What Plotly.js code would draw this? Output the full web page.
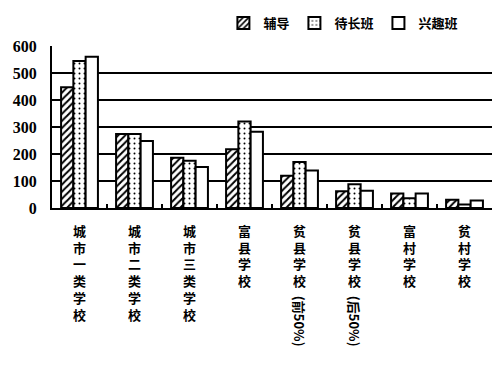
<!DOCTYPE html>
<html>
<head>
<meta charset="utf-8">
<script src="https://cdn.plot.ly/plotly-3.0.1.min.js"></script>
<style>html,body{margin:0;padding:0;background:#fff}#chart{width:500px;height:370px}</style>
</head>
<body>
<div id="chart"></div>
<script>
const categories = ['城市一类学校','城市二类学校','城市三类学校','富县学校','贫县学校(前50%)','贫县学校(后50%)','富村学校','贫村学校'];
const seriesNames = ['辅导','待长班','兴趣班'];
const fudao = [447, 274, 186, 218, 119, 62, 54, 31];
const daizhang = [544, 274, 175, 320, 170, 88, 36, 13];
const xingqu = [560, 248, 152, 282, 139, 64, 54, 28];
const yTicks = [0, 100, 200, 300, 400, 500, 600];

const cjk = '"Noto Sans CJK SC", sans-serif';
const mainParts = categories.map(c => c.split('(')[0]);
const parenParts = categories.map(c => c.indexOf('(') >= 0 ? c.slice(c.indexOf('(')) : '');
const tickText = mainParts.map(m => m.split('').join('<br>'));

function bar(name, vals, shape, size, solidity) {
  return {
    type: 'bar', name: name, x: categories, y: vals,
    marker: {
      color: 'white',
      line: {color: 'black', width: 2},
      pattern: shape ? {shape: shape, fgcolor: 'black', bgcolor: 'white', size: size, solidity: solidity} : undefined
    }
  };
}

const data = [
  bar(seriesNames[0], fudao, '/', 5, 0.4),
  bar(seriesNames[1], daizhang, '.', 5, 0.12),
  bar(seriesNames[2], xingqu, '', 0, 0)
];

const annotations = [];
categories.forEach((c, i) => {
  if (parenParts[i]) {
    annotations.push({
      x: c, xref: 'x', y: -0.53, yref: 'paper', yanchor: 'top', xanchor: 'center',
      text: parenParts[i], textangle: 90, showarrow: false,
      font: {family: cjk, size: 13, color: 'black', weight: 'bold'}
    });
  }
});

const layout = {
  width: 500, height: 370,
  margin: {l: 52, r: 8, t: 42, b: 162},
  paper_bgcolor: 'white', plot_bgcolor: 'white',
  barmode: 'group', bargap: 0.33, bargroupgap: 0,
  showlegend: true,
  legend: {
    orientation: 'h', x: 0.935, xanchor: 'right', y: 1.235, yanchor: 'top',
    font: {family: cjk, size: 13, color: 'black', weight: 'bold'},
    itemwidth: 30, traceorder: 'normal', bgcolor: 'rgba(0,0,0,0)'
  },
  xaxis: {
    type: 'category', tickvals: categories, ticktext: tickText, tickangle: 0,
    tickson: 'boundaries', ticks: 'inside', ticklen: 4, tickwidth: 2, tickcolor: 'black',
    ticklabelstandoff: 10,
    showline: true, linecolor: 'black', linewidth: 2, showgrid: false,
    tickfont: {family: cjk, size: 13, color: 'black', weight: 'bold'}
  },
  yaxis: {
    range: [0, 600], tickvals: yTicks, ticktext: yTicks.map(String),
    showline: true, linecolor: 'black', linewidth: 2,
    showgrid: true, gridcolor: 'black', gridwidth: 2, zeroline: false,
    ticks: '', ticklabelstandoff: 10,
    tickfont: {family: '"Liberation Serif", serif', size: 16, color: 'black', weight: 'bold'}
  },
  annotations: annotations
};

Plotly.newPlot('chart', data, layout, {staticPlot: true, displayModeBar: false});
</script>
</body>
</html>
